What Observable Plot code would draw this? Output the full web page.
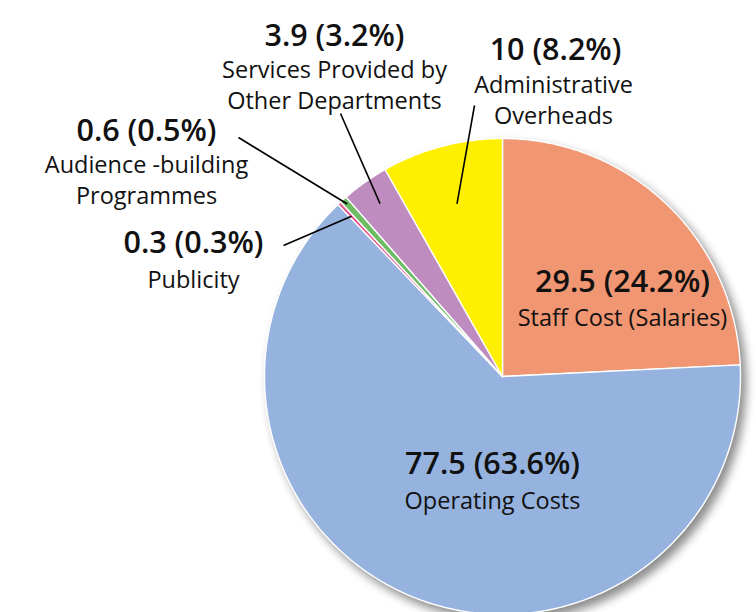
<!DOCTYPE html>
<html><head><meta charset="utf-8">
<script src="https://cdn.jsdelivr.net/npm/d3@7"></script>
<script src="https://cdn.jsdelivr.net/npm/@observablehq/plot@0.6"></script>
<style>html,body{margin:0;padding:0;background:#fff;overflow:hidden}</style>
</head><body><div id="chart"></div>
<script>
// ---- data ----
const categories = ["Staff Cost (Salaries)", "Operating Costs", "Publicity", "Audience -building\nProgrammes", "Services Provided by\nOther Departments", "Administrative\nOverheads"];
const values = [29.5, 77.5, 0.3, 0.6, 3.9, 10];
const percentLabels = ["24.2%", "63.6%", "0.3%", "0.5%", "3.2%", "8.2%"];
const sliceColors = ["#F19672", "#95B3DE", "#E5508A", "#6DBB63", "#BE8CBE", "#FFEF00"];

// ---- layout (annotation placement, in chart units: origin = pie centre, y up) ----
const R = 238;
const valueLabelPos = [[120, 94], [-10, -88], [-309, 133], [-356, 245], [-168, 340], [53, 326]];
const nameLabelPos  = [[120, 61], [-10, -122], [-309, 99], [-356, 198], [-168, 293], [51, 278]];
const leaderStart = [null, null, [-219, 131], [-264, 239], [-162, 263], [-28, 271]];
const leaderDepth = [null, null, 0.925, 0.975, 0.89, 0.75];

// ---- build pie geometry through d3.pie ----
const slices = d3.pie().sort(null)(values);
const pts = [];
slices.forEach(s => {
  const n = Math.max(2, Math.ceil((s.endAngle - s.startAngle) / 0.01));
  pts.push({k: s.index, x: 0, y: 0});
  for (let j = 0; j <= n; j++) {
    const a = s.startAngle + (s.endAngle - s.startAngle) * j / n;
    pts.push({k: s.index, x: R * Math.sin(a), y: R * Math.cos(a)});
  }
});

const labels = slices.map(s => ({
  i: s.index,
  value: `${values[s.index]} (${percentLabels[s.index]})`,
  name: categories[s.index],
  vx: valueLabelPos[s.index][0], vy: valueLabelPos[s.index][1],
  nx: nameLabelPos[s.index][0], ny: nameLabelPos[s.index][1]
}));

const leaders = slices.filter(s => leaderStart[s.index]).map(s => {
  const mid = (s.startAngle + s.endAngle) / 2;
  const r = R * leaderDepth[s.index];
  return {x1: leaderStart[s.index][0], y1: leaderStart[s.index][1], x2: r * Math.sin(mid), y2: r * Math.cos(mid)};
});

const chart = Plot.plot({
  width: 756, height: 612, margin: 0,
  x: {domain: [-502, 254], axis: null},
  y: {domain: [-236, 376], axis: null},
  color: {type: "identity"},
  style: {fontFamily: "'Open Sans', Lato, sans-serif", background: "white", overflow: "visible"},
  marks: [
    Plot.line(pts, {x: "x", y: "y", z: "k", fill: d => sliceColors[d.k], stroke: "white", strokeWidth: 1.4,
      strokeLinejoin: "round", curve: "linear-closed",
      imageFilter: "drop-shadow(5px 6px 5px rgba(0,0,0,0.45))"}),
    Plot.link(leaders, {x1: "x1", y1: "y1", x2: "x2", y2: "y2", stroke: "black", strokeWidth: 1.6}),
    Plot.text(labels, {x: "vx", y: "vy", text: "value", fontSize: 30.5, fontWeight: 600, fill: "#111", textAnchor: "middle", lineAnchor: "middle"}),
    Plot.text(labels, {x: "nx", y: "ny", text: "name", fontSize: 23.5, fontWeight: 400, fill: "#111", textAnchor: "middle", lineAnchor: "middle", lineHeight: 1.34})
  ]
});
document.getElementById("chart").appendChild(chart);
</script>
</body></html>
